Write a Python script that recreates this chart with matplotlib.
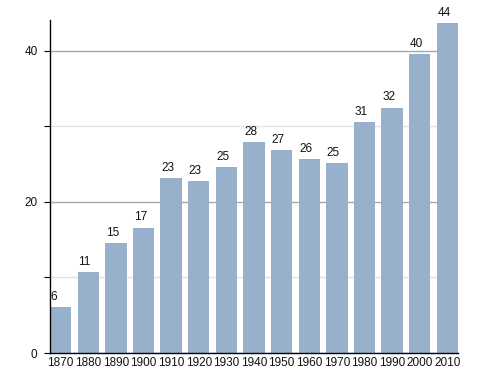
import matplotlib
matplotlib.use("Agg")
import matplotlib.pyplot as plt
from matplotlib.ticker import MultipleLocator

years = ["1870", "1880", "1890", "1900", "1910", "1920", "1930", "1940",
         "1950", "1960", "1970", "1980", "1990", "2000", "2010"]
values = [6.1, 10.7, 14.6, 16.6, 23.2, 22.8, 24.6, 27.9,
          26.9, 25.7, 25.2, 30.6, 32.5, 39.6, 43.7]
labels = ["6", "11", "15", "17", "23", "23", "25", "28",
          "27", "26", "25", "31", "32", "40", "44"]

plt.rcParams['font.family'] = ['Liberation Sans', 'DejaVu Sans']

W, H = 488, 373
fig = plt.figure(figsize=(W / 100, H / 100), dpi=100)
ax = fig.add_axes([50 / W, 20 / H, (458 - 50) / W, (353 - 20) / H])

bw = 0.77
x = list(range(len(years)))
ax.bar(x, values, width=bw, color="#97b0cc", zorder=2)

ax.set_xlim(-bw / 2, len(years) - 1 + bw / 2)
ax.set_ylim(0, 44.1)

ax.yaxis.set_major_locator(MultipleLocator(20))
ax.yaxis.set_minor_locator(MultipleLocator(10))
ax.grid(axis='y', which='major', color="#a8a8a8", linewidth=1.0, zorder=0)
ax.grid(axis='y', which='minor', color="#e2e2e2", linewidth=1.0, zorder=0)

ax.set_xticks(x)
ax.set_xticklabels(years, fontsize=8.5, color="#111111")
ax.tick_params(axis='x', length=0, pad=3)
ax.tick_params(axis='y', which='both', length=4, width=0.8, labelsize=8.5,
               labelcolor="#111111", direction='out', pad=5)
ax.tick_params(axis='y', which='minor', labelleft=False)

for s in ['top', 'right']:
    ax.spines[s].set_visible(False)
ax.spines['left'].set_linewidth(1.0)
ax.spines['bottom'].set_linewidth(1.0)

for xi, v, lab in zip(x, values, labels):
    ax.annotate(lab, (xi - bw / 2, v), xytext=(0.5, 3), textcoords='offset points',
                ha='left', va='bottom', fontsize=8.5, color="#111111")

fig.savefig("out.png", dpi=100)
